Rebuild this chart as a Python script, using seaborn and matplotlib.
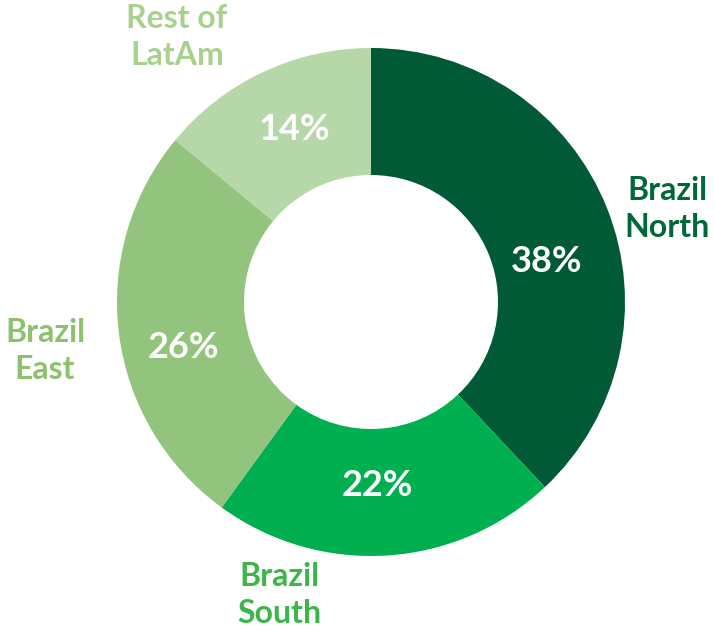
import matplotlib
matplotlib.use("Agg")
import matplotlib.pyplot as plt
import seaborn as sns

# Data
regions = ["Brazil\nNorth", "Brazil\nSouth", "Brazil\nEast", "Rest of\nLatAm"]
shares = [38, 22, 26, 14]
slice_colors = ["#005a36", "#00b050", "#93c47d", "#b6d7a8"]
label_colors = ["#006838", "#3cb54a", "#8dc16f", "#a9d18e"]

sns.set_theme(style="white")
plt.rcParams["font.family"] = ["Lato", "DejaVu Sans"]

W, H = 714, 631
fig = plt.figure(figsize=(W / 100, H / 100), dpi=100)
ax = fig.add_axes([0, 0, 1, 1])

cx, cy, R = 371, H - 302, 254
wedges, _, pct = ax.pie(
    shares, colors=slice_colors, startangle=90, counterclock=False,
    center=(cx, cy), radius=R, autopct="%d%%", pctdistance=0.73,
    wedgeprops=dict(width=R * 0.5, linewidth=0), frame=True,
    textprops=dict(color="white", fontsize=26, fontweight="bold"),
)
ax.set_xlim(0, W)
ax.set_ylim(0, H)
ax.set_aspect("equal")
ax.axis("off")
# PowerPoint placed these labels a little off the slice midpoints
pct[0].set_position((547, H - 262))
pct[1].set_position((377, H - 485))
pct[2].set_position((183, H - 347))
pct[3].set_position((294, H - 129))

label_pos = [(667, H - 209), (279, H - 595), (45, H - 351), (177, H - 37)]
for name, col, (x, y) in zip(regions, label_colors, label_pos):
    ax.text(x, y, name, color=col, fontsize=23, fontweight="bold",
            ha="center", va="center", linespacing=1.35)

fig.savefig("out.png", dpi=100)
